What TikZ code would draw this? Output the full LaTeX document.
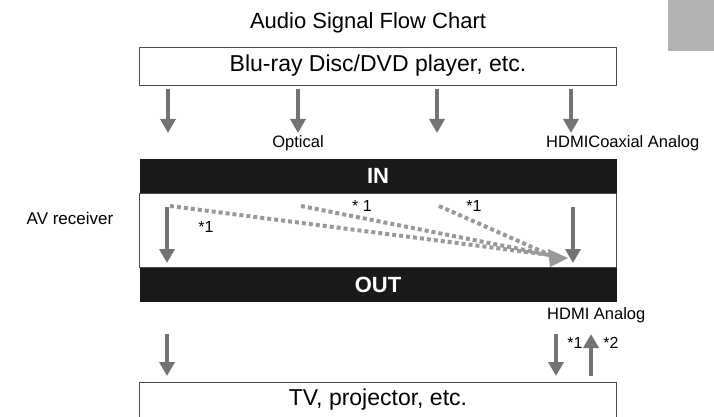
\documentclass[tikz,border=0pt]{standalone}
\usepackage{fontspec}
\setmainfont{Liberation Sans}
\usetikzlibrary{arrows.meta,positioning}

\begin{document}
\begin{tikzpicture}[
    x=1pt, y=-1pt,
    devbox/.style={rectangle, draw=black!70, line width=0.8pt, minimum width=477pt, minimum height=38pt, font=\fontsize{23}{23}\selectfont},
    bar/.style={rectangle, fill=black!90, text=white, minimum width=477pt, minimum height=34pt, font=\fontsize{22}{22}\selectfont\bfseries},
    flow/.style={draw=black!55, line width=4.5pt, -{Triangle[width=15pt,length=14pt]}},
    dots/.style={draw=black!40, line width=4pt, dash pattern=on 4pt off 3pt},
    lbl/.style={font=\fontsize{16.5}{16.5}\selectfont, inner sep=0pt},
    note/.style={font=\fontsize{16}{16}\selectfont, inner sep=0pt}
]
    \useasboundingbox (0,0) rectangle (714,417);
    \fill[black!30] (668,0) rectangle (714,51);

    \node[font=\fontsize{22}{22}\selectfont] (title) at (368,23) {Audio Signal Flow Chart};
    \node[devbox] (player) at (378,66) {Blu-ray Disc/DVD player, etc.};
    \node[bar] (in) at (378,176) {IN};
    \node[bar] (out) at (378,285) {OUT};
    \draw[black!70, line width=0.8pt] (in.south west) rectangle (out.north east);
    \node[devbox, anchor=north] (tv) at (378,382) {};
    \node[font=\fontsize{23}{23}\selectfont] (tvtext) at (378,400) {TV, projector, etc.};
    \node[font=\fontsize{17}{17}\selectfont] (av) at (70,218) {AV receiver};

    % player to IN
    \foreach \n/\x in {a/168,b/298,c/437,d/571} {
        \coordinate (\n top) at (\x,89);
        \coordinate (\n bot) at (\x,133);
        \draw[flow] (\n top) -- (\n bot);
    }
    \node[lbl] (optical) at (298,143) {Optical};
    \node[lbl, anchor=west] (inlabels) at (546,143) {HDMICoaxial Analog};

    % inside the receiver
    \coordinate (ltop) at (167,207);
    \coordinate (lbot) at (167,263);
    \coordinate (rtop) at (573,207);
    \coordinate (rbot) at (573,263);
    \draw[flow] (ltop) -- (lbot);
    \draw[flow] (rtop) -- (rbot);
    \coordinate (s1) at (170,206);
    \coordinate (s2) at (301,206);
    \coordinate (s3) at (439,206);
    \coordinate (meet) at (550,255);
    \coordinate (tip) at (568,258);
    \draw[dots] (s1) -- (meet);
    \draw[dots] (s2) -- (meet);
    \draw[dots] (s3) -- (meet);
    \fill[black!40] (tip) -- ++(-20,-9) -- ++(2,18) -- cycle;
    \node[note] (n1) at (206,227) {*1};
    \node[note] (n2) at (362,206) {* 1};
    \node[note] (n3) at (474,206) {*1};

    % OUT to TV
    \node[lbl, anchor=west] (outlabels) at (547,315) {HDMI Analog};
    \coordinate (btop) at (167,334);
    \coordinate (bbot) at (167,376);
    \coordinate (htop) at (556,334);
    \coordinate (hbot) at (556,376);
    \coordinate (utop) at (591,334);
    \coordinate (ubot) at (591,376);
    \draw[flow] (btop) -- (bbot);
    \draw[flow] (htop) -- (hbot);
    \draw[flow] (ubot) -- (utop);
    \node[note] (n4) at (575,343) {*1};
    \node[note] (n5) at (611,343) {*2};
\end{tikzpicture}
\end{document}
